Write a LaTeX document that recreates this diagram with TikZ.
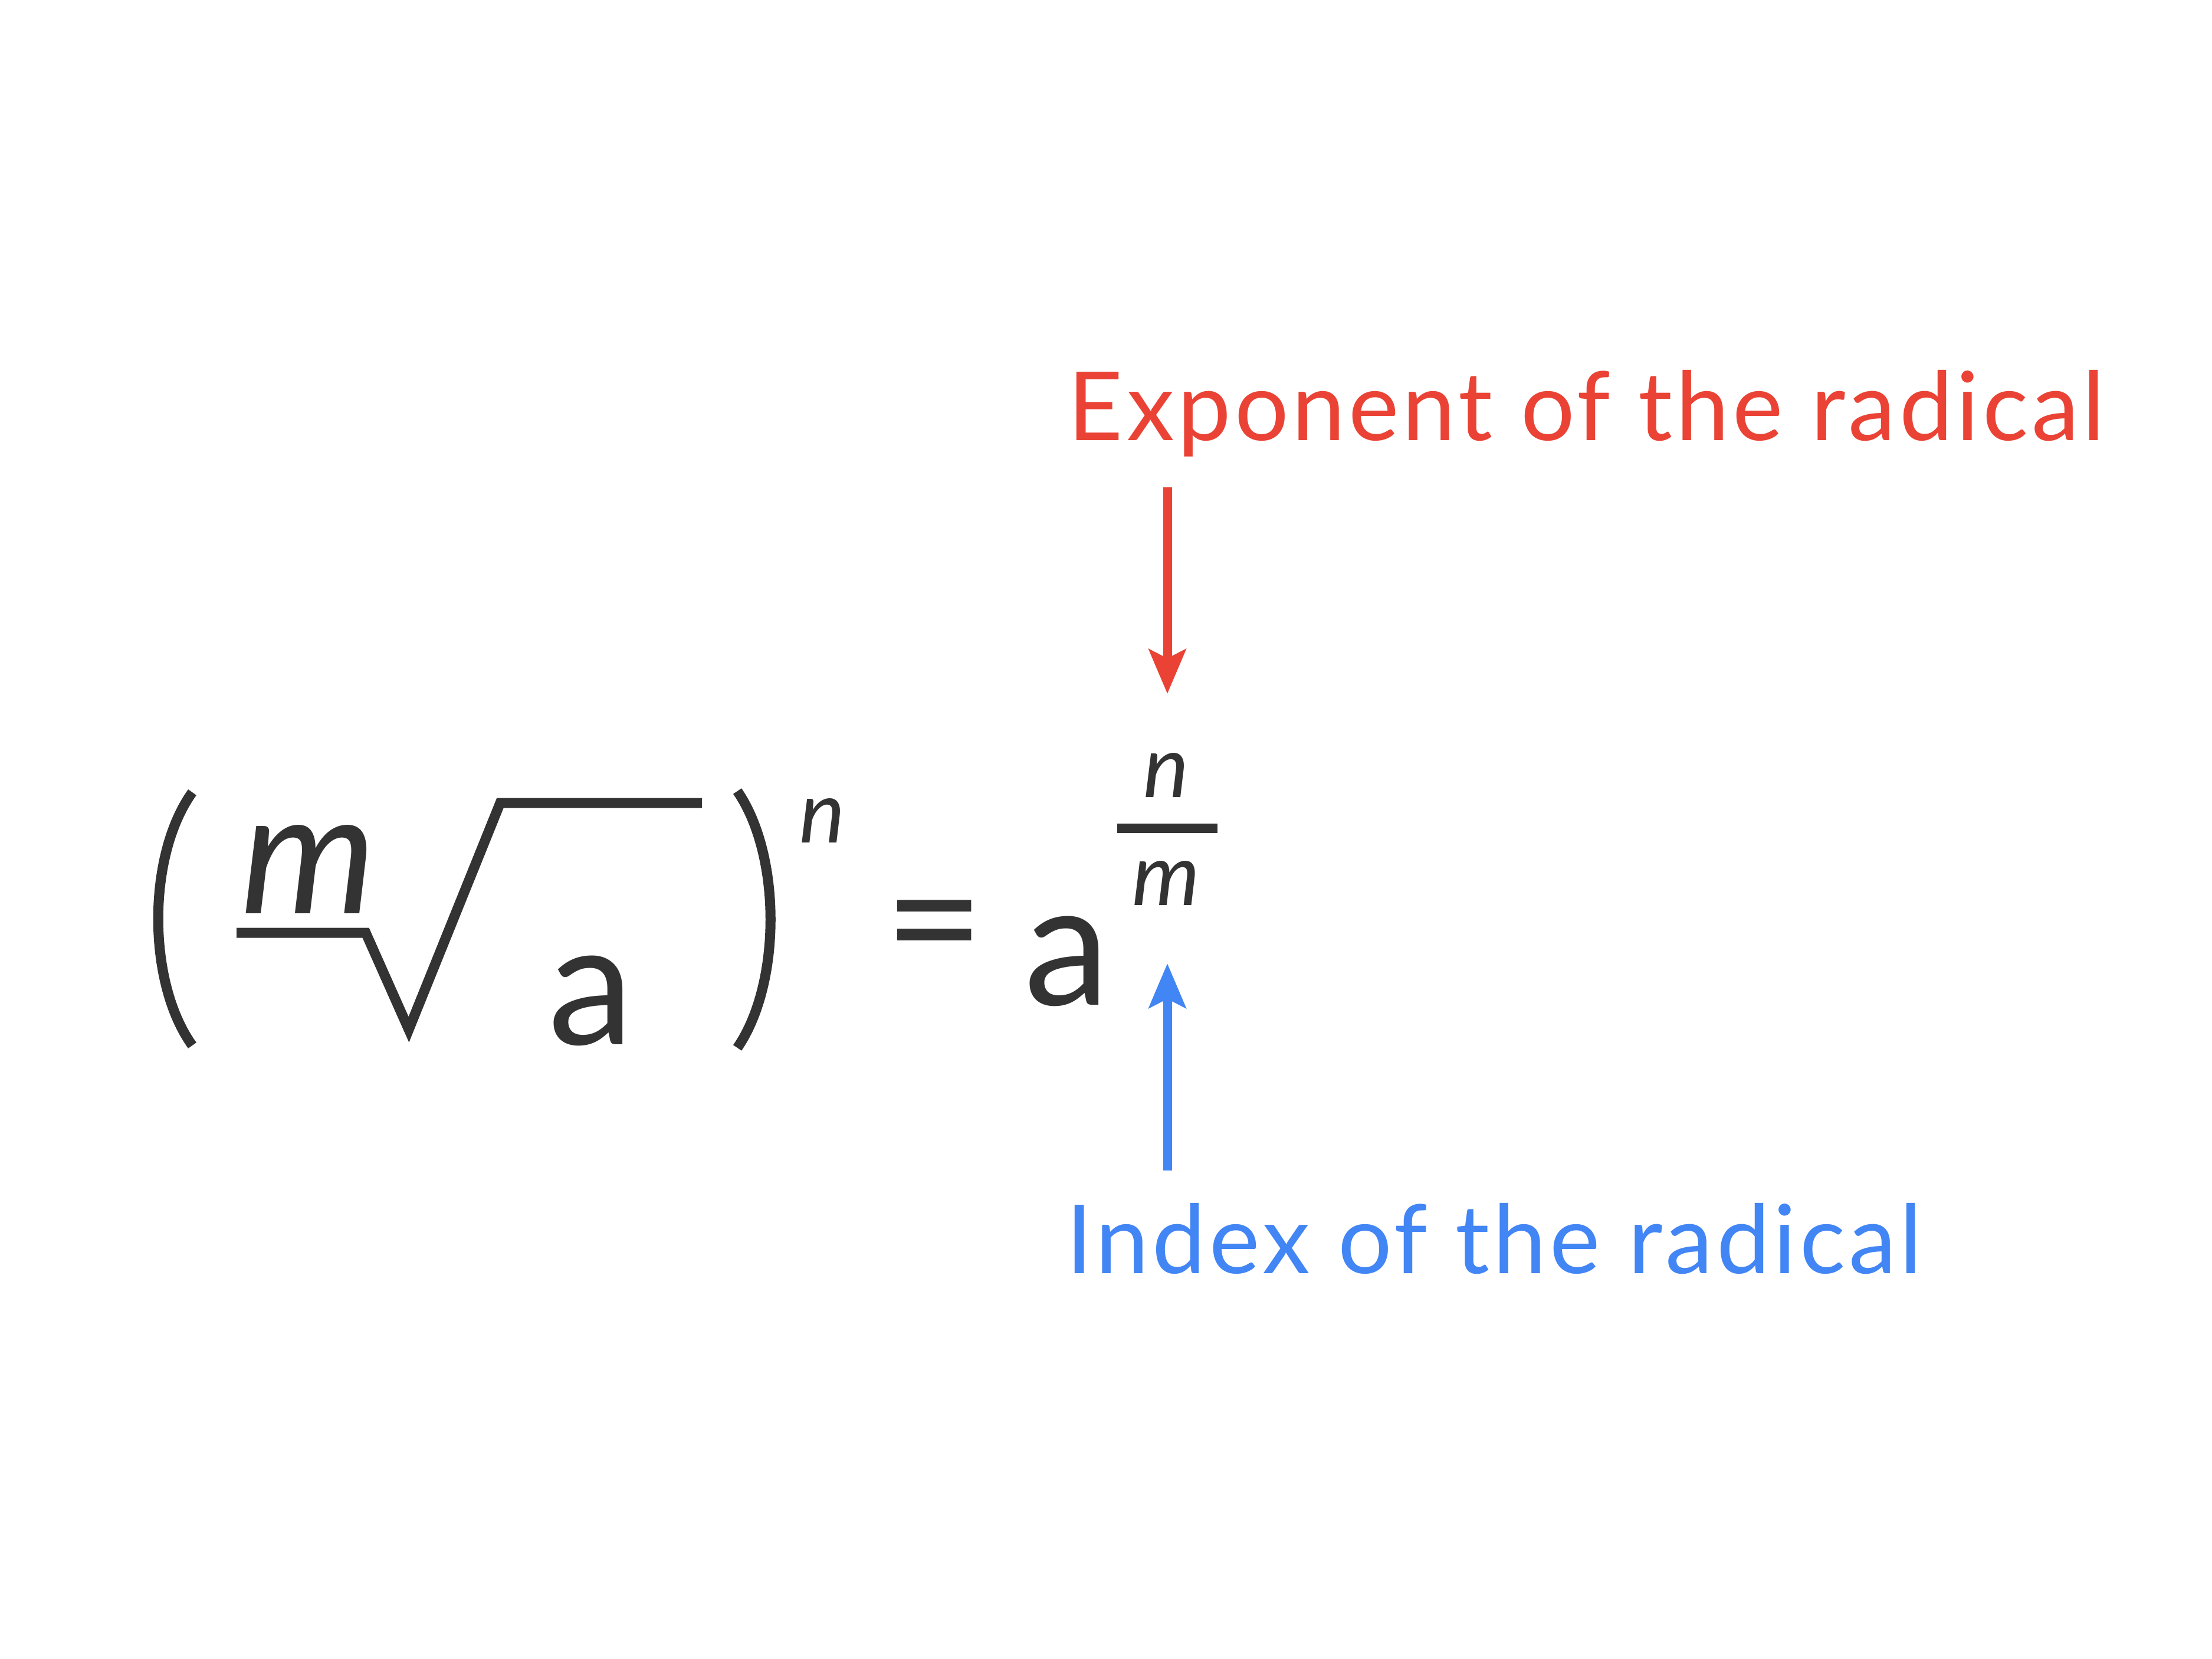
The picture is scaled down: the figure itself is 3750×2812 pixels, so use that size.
\documentclass[tikz,border=0pt]{standalone}
\usepackage{fontspec}
\setmainfont{Lato}
\usetikzlibrary{arrows.meta}
\definecolor{ink}{HTML}{333333}
\definecolor{expred}{HTML}{EA4335}
\definecolor{idxblue}{HTML}{4285F4}

\begin{document}
\begin{tikzpicture}[x=0.01cm, y=-0.01cm,
		bigsym/.style={inner sep=0, anchor=base, text=ink, font=\fontsize{83}{90}\selectfont},
		smallsym/.style={inner sep=0, anchor=base, text=ink, font=\fontsize{41.5}{45}\selectfont\itshape},
		tagtext/.style={inner sep=0, anchor=base west, font=\fontsize{46}{50}\selectfont\addfontfeature{LetterSpace=3.6}},
		glyphline/.style={draw=ink, line width=0.17cm},
		pointer/.style={line width=0.15cm, -{Stealth[length=0.75cm, width=0.62cm, inset=0.15cm]}}]
	\useasboundingbox[fill=white] (0,0) rectangle (3750,2812);
	\draw[glyphline] (326,1343) .. controls (249,1450) and (249,1665) .. (326,1772);
	\draw[glyphline] (1250,1341) .. controls (1325,1450) and (1325,1667) .. (1250,1776);
	\draw[glyphline, miter limit=10] (401,1581) -- (620,1581) -- (693,1745) -- (848,1361) -- (1190,1361);
	\node[bigsym] (idx) at (523,1548) {\itshape m};
	\node[bigsym] (rad) at (1002,1770) {a};
	\node[smallsym] (pow) at (1394,1428) {n};
	\node[bigsym] (eq) at (1584,1658) {=};
	\node[bigsym] (base) at (1809,1703) {a};
	\node[smallsym] (num) at (1977,1351) {n};
	\node[smallsym] (den) at (1977,1534) {m};
	\draw[draw=ink, line width=0.16cm] (1894,1404) -- (2064,1404);
	\node[tagtext, text=expred] (exp) at (1810,746) {Exponent of the radical};
	\node[tagtext, text=idxblue] (ind) at (1807,2158) {Index of the radical};
	\coordinate (exptail) at (1979,826);
	\coordinate (exptip) at (1979,1176);
	\coordinate (indtail) at (1979,1984);
	\coordinate (indtip) at (1979,1633);
	\draw[pointer, expred] (exptail) -- (exptip);
	\draw[pointer, idxblue] (indtail) -- (indtip);
\end{tikzpicture}
\end{document}
